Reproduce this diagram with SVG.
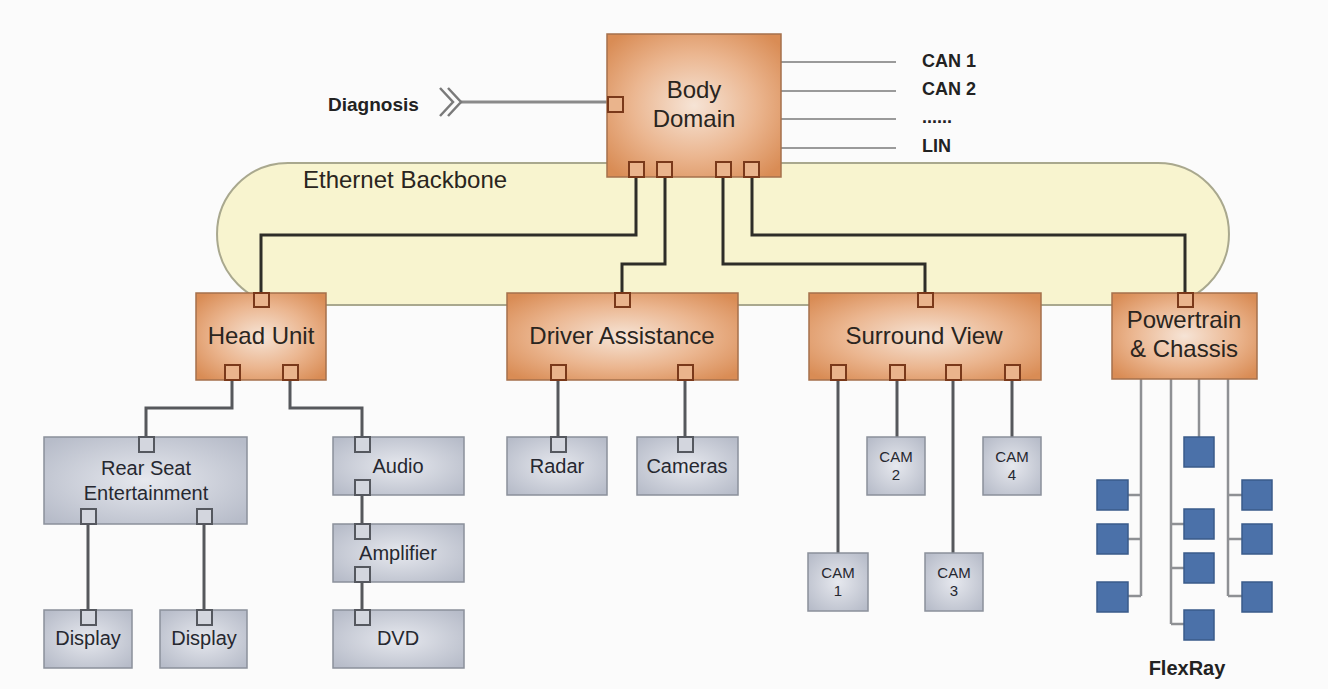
<svg xmlns="http://www.w3.org/2000/svg" width="1328" height="689" viewBox="0 0 1328 689">
<defs>
<radialGradient id="gO" cx="50%" cy="50%" r="65%">
<stop offset="0%" stop-color="#f6e4d6"/>
<stop offset="55%" stop-color="#ebb690"/>
<stop offset="100%" stop-color="#d98c55"/>
</radialGradient>
<radialGradient id="gG" cx="50%" cy="50%" r="65%">
<stop offset="0%" stop-color="#e6e8ee"/>
<stop offset="100%" stop-color="#b7bcc9"/>
</radialGradient>
<style>
.bb{fill:#f8f4cf;stroke:#a9a88e;stroke-width:2}
.on{fill:url(#gO);stroke:#a5704c;stroke-width:1.5}
.gn{fill:url(#gG);stroke:#8b909b;stroke-width:1.5}
.bl{fill:#4b71a9;stroke:#3a5b8a;stroke-width:1.5}
.op{fill:#eab48c;stroke:#7a391a;stroke-width:2}
.gp{fill:#d3d6de;stroke:#55585f;stroke-width:2}
.eth{fill:none;stroke:#2e2d28;stroke-width:3}
.sub{fill:none;stroke:#56585c;stroke-width:3}
.fr{fill:none;stroke:#8e9094;stroke-width:2.5}
.can{fill:none;stroke:#9a9a9a;stroke-width:2}
.t{font-family:"Liberation Sans",Arial,sans-serif;fill:#2a2520;text-anchor:middle}
.to{font-size:24px}
.tg{font-size:20px;fill:#262830}
.tc{font-size:15px;fill:#262830}
.tb{font-family:"Liberation Sans",Arial,sans-serif;font-weight:bold;fill:#222}
</style>
</defs>
<rect x="0" y="0" width="1328" height="689" fill="#fbfbfb"/>

<g id="ethernet-backbone">
<path class="bb" d="M288,163 H1158 A71,71 0 0 1 1158,305 H288 A71,71 0 0 1 288,163 Z"/>
<text class="t" x="303" y="188" font-size="24" style="text-anchor:start">Ethernet Backbone</text>
</g>

<g id="connectors">
<path class="eth" d="M636,177 V235 H261 V293"/>
<path class="eth" d="M665,177 V264 H622 V293"/>
<path class="eth" d="M723,177 V264 H925 V293"/>
<path class="eth" d="M752,177 V235 H1185 V293"/>
<path class="sub" d="M232,380 V408 H146 V437"/>
<path class="sub" d="M290,380 V408 H362 V437"/>
<path class="sub" d="M88,524 V610"/>
<path class="sub" d="M204,524 V610"/>
<path class="sub" d="M362,495 V524"/>
<path class="sub" d="M362,582 V610"/>
<path class="sub" d="M558,380 V437"/>
<path class="sub" d="M685,380 V437"/>
<path class="sub" d="M838,380 V553"/>
<path class="sub" d="M897,380 V437"/>
<path class="sub" d="M953,380 V553"/>
<path class="sub" d="M1012,380 V437"/>
<path class="fr" d="M1141,379 V596 M1128,495 H1141 M1128,539 H1141 M1128,596 H1141"/>
<path class="fr" d="M1171,379 V624 M1171,524 H1184 M1171,568 H1184 M1171,624 H1184"/>
<path class="fr" d="M1199,379 V437"/>
<path class="fr" d="M1228,379 V596 M1228,495 H1242 M1228,539 H1242 M1228,596 H1242"/>
<path class="can" d="M781,62 H896 M781,91 H896 M781,119 H896 M781,148 H896"/>
<path fill="none" stroke="#8a8a8a" stroke-width="3" d="M461,102 H607"/>
<path fill="none" stroke="#7a7a7a" stroke-width="2.5" d="M440,88 L453,102 L440,116 M448,88 L461,102 L448,116"/>
</g>

<g id="labels">
<text class="tb" x="328" y="111" font-size="19">Diagnosis</text>
<text class="tb" x="922" y="67" font-size="18">CAN 1</text>
<text class="tb" x="922" y="95" font-size="18">CAN 2</text>
<text class="tb" x="922" y="123" font-size="18">......</text>
<text class="tb" x="922" y="152" font-size="18">LIN</text>
<text class="tb" x="1187" y="675" font-size="20" text-anchor="middle">FlexRay</text>
</g>

<g id="body-domain">
<rect class="on" x="607" y="34" width="174" height="143"/>
<rect class="op" x="608" y="97" width="15" height="15"/>
<rect class="op" x="629" y="162" width="15" height="15"/>
<rect class="op" x="657" y="162" width="15" height="15"/>
<rect class="op" x="716" y="162" width="15" height="15"/>
<rect class="op" x="744" y="162" width="15" height="15"/>
<text class="t to" x="694" y="98">Body</text>
<text class="t to" x="694" y="127">Domain</text>
</g>

<g id="head-unit">
<rect class="on" x="196" y="293" width="130" height="87"/>
<rect class="op" x="254" y="293" width="15" height="14"/>
<rect class="op" x="225" y="365" width="15" height="15"/>
<rect class="op" x="283" y="365" width="15" height="15"/>
<text class="t to" x="261" y="344">Head Unit</text>
</g>

<g id="driver-assistance">
<rect class="on" x="507" y="293" width="231" height="87"/>
<rect class="op" x="615" y="293" width="15" height="14"/>
<rect class="op" x="551" y="365" width="15" height="15"/>
<rect class="op" x="678" y="365" width="15" height="15"/>
<text class="t to" x="622" y="344">Driver Assistance</text>
</g>

<g id="surround-view">
<rect class="on" x="809" y="293" width="232" height="87"/>
<rect class="op" x="918" y="293" width="15" height="14"/>
<rect class="op" x="831" y="365" width="15" height="15"/>
<rect class="op" x="890" y="365" width="15" height="15"/>
<rect class="op" x="946" y="365" width="15" height="15"/>
<rect class="op" x="1005" y="365" width="15" height="15"/>
<text class="t to" x="924" y="344">Surround View</text>
</g>

<g id="powertrain-chassis">
<rect class="on" x="1112" y="293" width="145" height="86"/>
<rect class="op" x="1178" y="293" width="15" height="14"/>
<text class="t to" x="1184" y="328">Powertrain</text>
<text class="t to" x="1184" y="357">&amp; Chassis</text>
</g>

<g id="rear-seat-entertainment">
<rect class="gn" x="44" y="437" width="203" height="87"/>
<rect class="gp" x="139" y="437" width="15" height="15"/>
<rect class="gp" x="81" y="509" width="15" height="15"/>
<rect class="gp" x="197" y="509" width="15" height="15"/>
<text class="t tg" x="146" y="475">Rear Seat</text>
<text class="t tg" x="146" y="500">Entertainment</text>
</g>

<g id="display-1">
<rect class="gn" x="44" y="610" width="88" height="58"/>
<rect class="gp" x="81" y="610" width="15" height="15"/>
<text class="t tg" x="88" y="645">Display</text>
</g>

<g id="display-2">
<rect class="gn" x="160" y="610" width="87" height="58"/>
<rect class="gp" x="197" y="610" width="15" height="15"/>
<text class="t tg" x="204" y="645">Display</text>
</g>

<g id="audio">
<rect class="gn" x="333" y="437" width="131" height="58"/>
<rect class="gp" x="355" y="437" width="15" height="15"/>
<rect class="gp" x="355" y="480" width="15" height="15"/>
<text class="t tg" x="398" y="473">Audio</text>
</g>

<g id="amplifier">
<rect class="gn" x="333" y="524" width="131" height="58"/>
<rect class="gp" x="355" y="524" width="15" height="15"/>
<rect class="gp" x="355" y="567" width="15" height="15"/>
<text class="t tg" x="398" y="560">Amplifier</text>
</g>

<g id="dvd">
<rect class="gn" x="333" y="610" width="131" height="58"/>
<rect class="gp" x="355" y="610" width="15" height="15"/>
<text class="t tg" x="398" y="645">DVD</text>
</g>

<g id="radar">
<rect class="gn" x="507" y="437" width="100" height="58"/>
<rect class="gp" x="551" y="437" width="15" height="15"/>
<text class="t tg" x="557" y="473">Radar</text>
</g>

<g id="cameras">
<rect class="gn" x="637" y="437" width="101" height="58"/>
<rect class="gp" x="678" y="437" width="15" height="15"/>
<text class="t tg" x="687" y="473">Cameras</text>
</g>

<g id="cam-1">
<rect class="gn" x="808" y="553" width="60" height="58"/>
<text class="t tc" x="838" y="578">CAM</text>
<text class="t tc" x="838" y="596">1</text>
</g>
<g id="cam-2">
<rect class="gn" x="867" y="437" width="58" height="58"/>
<text class="t tc" x="896" y="462">CAM</text>
<text class="t tc" x="896" y="480">2</text>
</g>
<g id="cam-3">
<rect class="gn" x="925" y="553" width="58" height="58"/>
<text class="t tc" x="954" y="578">CAM</text>
<text class="t tc" x="954" y="596">3</text>
</g>
<g id="cam-4">
<rect class="gn" x="983" y="437" width="58" height="58"/>
<text class="t tc" x="1012" y="462">CAM</text>
<text class="t tc" x="1012" y="480">4</text>
</g>

<g id="flexray-nodes">
<rect class="bl" x="1097" y="480" width="31" height="30"/>
<rect class="bl" x="1097" y="524" width="31" height="30"/>
<rect class="bl" x="1097" y="582" width="31" height="30"/>
<rect class="bl" x="1184" y="437" width="30" height="30"/>
<rect class="bl" x="1184" y="509" width="30" height="30"/>
<rect class="bl" x="1184" y="553" width="30" height="30"/>
<rect class="bl" x="1184" y="610" width="30" height="30"/>
<rect class="bl" x="1242" y="480" width="30" height="30"/>
<rect class="bl" x="1242" y="524" width="30" height="30"/>
<rect class="bl" x="1242" y="582" width="30" height="30"/>
</g>
</svg>
